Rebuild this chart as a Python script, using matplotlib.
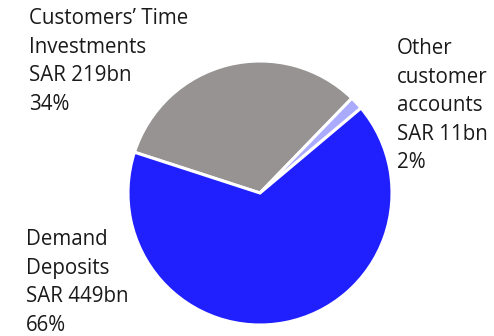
import matplotlib
matplotlib.use("Agg")
import matplotlib.pyplot as plt

# Customer deposits breakdown (SAR bn)
categories = ["Customers\u2019 Time\nInvestments", "Other\ncustomer\naccounts", "Demand\nDeposits"]
values = [219, 11, 449]
percents = ["34%", "2%", "66%"]
colors = ["#969392", "#AAAAFF", "#2020FF"]

W, H = 494, 336
fig = plt.figure(figsize=(W / 100, H / 100), dpi=100)

cx, cy, r = 260, 193, 132
ax = fig.add_axes([(cx - r) / W, (H - cy - r) / H, 2 * r / W, 2 * r / H])
ax.pie(values, colors=colors, startangle=162, counterclock=False,
       wedgeprops=dict(edgecolor="white", linewidth=2.2))
ax.set_xlim(-1.0, 1.0)
ax.set_ylim(-1.0, 1.0)
ax.set_aspect("equal")
ax.axis("off")

# label anchors (top-left corner, pixels)
label_pos = [(29, 8), (397, 38), (26, 229)]
for cat, val, pct, (x, y) in zip(categories, values, percents, label_pos):
    fig.text(x / W, 1 - y / H, f"{cat}\nSAR {val}bn\n{pct}",
             ha="left", va="top", fontsize=14.8, family="Open Sans",
             color="#1a1a1a", linespacing=1.47)

fig.savefig("out.png", dpi=100)
